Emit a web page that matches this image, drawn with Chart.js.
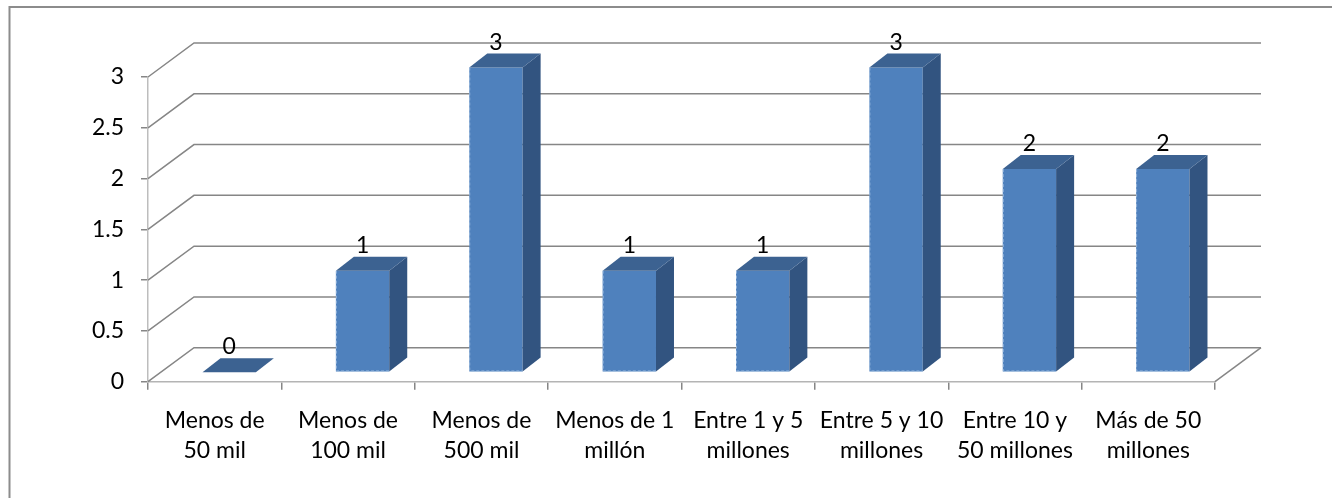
<!DOCTYPE html>
<html>
<head>
    <title>Empresas por rango de facturación</title>
    <script src="https://cdn.jsdelivr.net/npm/chart.js"></script>
    <style>
        html, body { margin: 0; padding: 0; background: #fff; }
        #wrap { width: 1332px; height: 498px; }
    </style>
</head>
<body>
    <div id="wrap"><canvas id="rangeChart"></canvas></div>

    <script>
        const categories = [
            ['Menos de', '50 mil'],
            ['Menos de', '100 mil'],
            ['Menos de', '500 mil'],
            ['Menos de 1', 'millón'],
            ['Entre 1 y 5', 'millones'],
            ['Entre 5 y 10', 'millones'],
            ['Entre 10 y', '50 millones'],
            ['Más de 50', 'millones']
        ];
        const counts = [0, 1, 3, 1, 1, 3, 2, 2];
        const yTicks = [0, 0.5, 1, 1.5, 2, 2.5, 3];

        // pseudo-3D geometry (pixels)
        const WALL_DX = 46, WALL_DY = -34;     // back wall offset
        const SHIFT_X = 14.5, SHIFT_Y = -9.5;  // bars sit a bit inside the box
        const BAR_DX = 18, BAR_DY = -14;       // bar depth

        const FRONT = '#4f81bd';
        const SIDE = '#325480';
        const TOP = '#3c6291';
        const GRID = '#868686';
        const FONT = 'Lato, "Liberation Sans", sans-serif';
        const FONT_SIZE = 23;

        const box3d = {
            id: 'box3d',
            beforeDraw(chart) {
                const ctx = chart.ctx;
                // chart frame, only the left and top edges are in view
                ctx.save();
                ctx.strokeStyle = '#8c8c8c';
                ctx.lineWidth = 2;
                ctx.beginPath();
                ctx.moveTo(9.5, chart.height + 5);
                ctx.lineTo(9.5, 7);
                ctx.lineTo(chart.width + 5, 7);
                ctx.stroke();
                ctx.restore();
            },
            beforeDatasetsDraw(chart) {
                const { ctx, chartArea: a, scales: { y } } = chart;
                ctx.save();
                ctx.strokeStyle = GRID;
                ctx.lineWidth = 1.5;
                // side wall diagonals + back wall gridlines
                y.ticks.forEach(t => {
                    const py = y.getPixelForValue(t.value);
                    ctx.beginPath();
                    ctx.moveTo(a.left, py);
                    ctx.lineTo(a.left + WALL_DX, py + WALL_DY);
                    ctx.lineTo(a.right + WALL_DX, py + WALL_DY);
                    ctx.stroke();
                });
                // right edge of the floor
                const y0 = y.getPixelForValue(0);
                ctx.beginPath();
                ctx.moveTo(a.right, y0);
                ctx.lineTo(a.right + WALL_DX, y0 + WALL_DY);
                ctx.stroke();
                ctx.restore();

                ctx.save();
                ctx.translate(SHIFT_X, SHIFT_Y);
            },
            afterDatasetsDraw(chart) {
                const ctx = chart.ctx;
                const meta = chart.getDatasetMeta(0);
                meta.data.forEach((bar, i) => {
                    const { x, y, base, width } = bar.getProps(['x', 'y', 'base', 'width'], true);
                    const l = x - width / 2, r = x + width / 2;

                    ctx.fillStyle = SIDE;
                    ctx.beginPath();
                    ctx.moveTo(r, y);
                    ctx.lineTo(r + BAR_DX, y + BAR_DY);
                    ctx.lineTo(r + BAR_DX, base + BAR_DY);
                    ctx.lineTo(r, base);
                    ctx.closePath();
                    ctx.fill();

                    ctx.fillStyle = TOP;
                    ctx.beginPath();
                    ctx.moveTo(l, y);
                    ctx.lineTo(l + BAR_DX, y + BAR_DY);
                    ctx.lineTo(r + BAR_DX, y + BAR_DY);
                    ctx.lineTo(r, y);
                    ctx.closePath();
                    ctx.fill();

                    // faint dashed outline along the front face
                    if (y !== base) {
                        ctx.save();
                        ctx.strokeStyle = 'rgba(160,190,225,0.8)';
                        ctx.lineWidth = 1;
                        ctx.setLineDash([3, 2]);
                        ctx.beginPath();
                        ctx.moveTo(l + 0.5, y);
                        ctx.lineTo(l + 0.5, base - 0.5);
                        ctx.lineTo(r, base - 0.5);
                        ctx.stroke();
                        ctx.restore();
                    }

                    // value label above the bar
                    ctx.fillStyle = '#000';
                    ctx.font = FONT_SIZE + 'px ' + FONT;
                    ctx.textAlign = 'center';
                    ctx.textBaseline = 'alphabetic';
                    ctx.fillText(String(counts[i]), x, y + BAR_DY - 4);
                });
                ctx.restore();
            }
        };

        new Chart(document.getElementById('rangeChart'), {
            type: 'bar',
            data: {
                labels: categories,
                datasets: [{
                    data: counts,
                    backgroundColor: FRONT,
                    borderWidth: 0,
                    categoryPercentage: 1,
                    barPercentage: 0.4,
                    clip: false
                }]
            },
            options: {
                responsive: true,
                maintainAspectRatio: false,
                animation: false,
                events: [],
                layout: { padding: { top: 77, right: 117, left: 0, bottom: 0 } },
                plugins: {
                    legend: { display: false },
                    tooltip: { enabled: false }
                },
                scales: {
                    x: {
                        grid: { drawOnChartArea: false, drawTicks: true, tickLength: 8, color: GRID, lineWidth: 1.5 },
                        border: { display: true, color: '#b4b4b4', dash: [4, 3], width: 1.5 },
                        ticks: {
                            color: '#000',
                            padding: 16,
                            maxRotation: 0,
                            autoSkip: false,
                            font: { family: FONT, size: FONT_SIZE, lineHeight: 1.3 }
                        },
                        afterFit: s => { s.height = 116.3; }
                    },
                    y: {
                        min: 0,
                        max: 3,
                        afterBuildTicks: s => { s.ticks = yTicks.map(v => ({ value: v })); },
                        grid: { drawOnChartArea: false, drawTicks: true, tickLength: 7, color: GRID, lineWidth: 1.5 },
                        border: { display: true, color: '#bdbdbd', dash: [4, 3], width: 1.5 },
                        ticks: {
                            color: '#000',
                            padding: 17,
                            callback: v => String(v),
                            font: { family: FONT, size: FONT_SIZE }
                        },
                        afterFit: s => { s.width = 148; }
                    }
                }
            },
            plugins: [box3d]
        });
    </script>
</body>
</html>
